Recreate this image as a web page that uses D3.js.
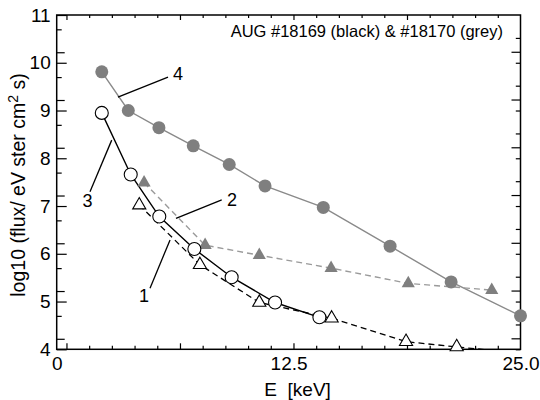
<!DOCTYPE html>
<html lang="en">
<head>
<meta charset="UTF-8">
<title>AUG flux spectra</title>
<script src="https://d3js.org/d3.v7.min.js"></script>
<style>
    body { margin: 0; background: #fff; }
    text { font-family: "Liberation Sans", Arial, sans-serif; }
</style>
</head>
<body>
<svg id="chart"></svg>
<script>
    // curve 1: #18169, open triangles, dashed black
    let e1 = [4.45, 7.72, 10.92, 14.82, 18.83, 21.56, 25.0];
    let v1 = [7.02, 5.77, 4.98, 4.65, 4.16, 4.05, 3.92];
    // curve 2: #18170, filled triangles, dashed grey
    let e2 = [4.71, 8.0, 10.92, 14.79, 18.95, 23.45];
    let v2 = [7.49, 6.18, 5.97, 5.70, 5.38, 5.24];
    // curve 3: #18169, open circles, solid black
    let e3 = [2.43, 3.99, 5.53, 7.42, 9.43, 11.77, 14.16];
    let v3 = [8.95, 7.66, 6.78, 6.10, 5.51, 4.98, 4.67];
    // curve 4: #18170, filled circles, solid grey
    let e4 = [2.43, 3.86, 5.51, 7.36, 9.30, 11.23, 14.37, 17.97, 21.26, 25.0];
    let v4 = [9.81, 9.0, 8.64, 8.26, 7.87, 7.42, 6.97, 6.16, 5.41, 4.70];

    let yLabels = [4, 5, 6, 7, 8, 9, 10, 11];
    let xLabels = [0, 12.5, 25.0];
    let xLabelText = ["0", "12.5", "25.0"];

    let width = 540, height = 400;
    let pLeft = 56.7, pRight = 520.5, pTop = 15, pBottom = 349.3;

    let svg = d3.select("#chart").attr("width", width).attr("height", height);

    let x = d3.scaleLinear().domain([0, 25]).range([pLeft, pRight]);
    let y = d3.scaleLinear().domain([4, 11]).range([pBottom, pTop]);
    // the tick marks of the frame do not sit on the labelled values
    let tx = d3.scaleLinear().domain([-0.43, 20]).range([pLeft, pRight]);

    function yTicks(off) {
        return d3.range(4, 11).map(function (n) { return n + off; }).filter(function (v) { return v <= 11; });
    }

    function tickAxis(axis, tr) {
        let g = svg.append("g").attr("transform", tr).call(axis);
        g.select(".domain").remove();
        g.selectAll("line").attr("stroke", "#000").attr("stroke-width", 1.2);
        return g;
    }

    // left side ticks
    tickAxis(d3.axisRight(y).tickValues(yLabels).tickSize(10).tickFormat(""), "translate(" + pLeft + ",0)");
    tickAxis(d3.axisRight(y).tickValues(yTicks(0.22)).tickSize(8).tickFormat(""), "translate(" + pLeft + ",0)");
    tickAxis(d3.axisRight(y).tickValues(yTicks(0.70)).tickSize(5).tickFormat(""), "translate(" + pLeft + ",0)");
    // right side ticks
    tickAxis(d3.axisLeft(y).tickValues(yTicks(0.23)).tickSize(9).tickFormat(""), "translate(" + pRight + ",0)");
    tickAxis(d3.axisLeft(y).tickValues(yTicks(0).concat(yTicks(0.52))).tickSize(4.7).tickFormat(""), "translate(" + pRight + ",0)");
    // bottom & top ticks
    let major = d3.range(0, 20, 5), minor = d3.range(0, 20).filter(function (d) { return d % 5 !== 0; });
    tickAxis(d3.axisTop(tx).tickValues(major).tickSize(6).tickFormat(""), "translate(0," + pBottom + ")");
    tickAxis(d3.axisTop(tx).tickValues(minor).tickSize(3.5).tickFormat(""), "translate(0," + pBottom + ")");
    tickAxis(d3.axisBottom(tx).tickValues(major).tickSize(5).tickFormat(""), "translate(0," + pTop + ")");
    tickAxis(d3.axisBottom(tx).tickValues(minor).tickSize(3).tickFormat(""), "translate(0," + pTop + ")");

    // frame
    svg.append("rect")
        .attr("x", pLeft).attr("y", pTop)
        .attr("width", pRight - pLeft).attr("height", pBottom - pTop)
        .attr("fill", "none").attr("stroke", "#000").attr("stroke-width", 1.5);

    // tick labels
    let yl = svg.append("g").attr("transform", "translate(" + pLeft + ",0)")
        .call(d3.axisLeft(y).tickValues(yLabels).tickSize(0).tickPadding(6).tickFormat(d3.format("d")));
    yl.select(".domain").remove();
    yl.selectAll("text").attr("font-size", 19).attr("fill", "#000")
        .attr("font-family", "Liberation Sans, Arial, sans-serif");

    let xl = svg.append("g").attr("transform", "translate(0," + pBottom + ")")
        .call(d3.axisBottom(x).tickValues(xLabels).tickSize(0).tickPadding(7)
            .tickFormat(function (d, i) { return xLabelText[i]; }));
    xl.select(".domain").remove();
    xl.selectAll("text").attr("font-size", 19).attr("fill", "#000")
        .attr("font-family", "Liberation Sans, Arial, sans-serif");

    // axis titles
    svg.append("text")
        .attr("x", (pLeft + pRight) / 2 + 9).attr("y", 396)
        .attr("text-anchor", "middle").attr("font-size", 19)
        .attr("xml:space", "preserve")
        .text("E  [keV]");

    let yt = svg.append("text")
        .attr("transform", "translate(25," + 185 + ") rotate(-90)")
        .attr("text-anchor", "middle").attr("font-size", 19.5);
    yt.append("tspan").text("log10 (flux/ eV ster cm");
    yt.append("tspan").attr("dy", -7).attr("font-size", 14).text("2");
    yt.append("tspan").attr("dy", 7).text(" s)");

    svg.append("text")
        .attr("x", x(24.06)).attr("y", 37)
        .attr("text-anchor", "end").attr("font-size", 16.5)
        .text("AUG #18169 (black) & #18170 (grey)");

    // curves
    svg.append("clipPath").attr("id", "plotclip").append("rect")
        .attr("x", pLeft).attr("y", pTop).attr("width", pRight - pLeft).attr("height", pBottom - pTop);

    function pts(es, vs) {
        return es.map(function (e, i) { return [e, vs[i]]; });
    }

    let line = d3.line()
        .x(function (d) { return x(d[0]); })
        .y(function (d) { return y(d[1]); });

    function curve(data, colour, dash, w) {
        svg.append("path")
            .datum(data)
            .attr("d", line)
            .attr("clip-path", "url(#plotclip)")
            .attr("fill", "none")
            .attr("stroke", colour)
            .attr("stroke-width", w)
            .attr("stroke-dasharray", dash);
    }

    let tri = d3.symbol().type(d3.symbolTriangle).size(75);

    let c1 = pts(e1, v1), c2 = pts(e2, v2), c3 = pts(e3, v3), c4 = pts(e4, v4);

    curve(c4, "#8a8a8a", null, 1.4);
    curve(c2, "#9a9a9a", "6,4", 1.4);
    curve(c1, "#000", "6,4", 1.3);
    curve(c3, "#000", null, 1.4);

    svg.selectAll(".m4").data(c4).enter().append("circle")
        .attr("cx", function (d) { return x(d[0]); })
        .attr("cy", function (d) { return y(d[1]); })
        .attr("r", 6.5).attr("fill", "#7f7f7f");

    svg.selectAll(".m2").data(c2).enter().append("path")
        .attr("d", tri)
        .attr("transform", function (d) { return "translate(" + x(d[0]) + "," + y(d[1]) + ")"; })
        .attr("fill", "#7f7f7f");

    svg.selectAll(".m1").data(c1.filter(function (d) { return d[1] >= 4; })).enter().append("path")
        .attr("d", tri)
        .attr("transform", function (d) { return "translate(" + x(d[0]) + "," + y(d[1]) + ")"; })
        .attr("fill", "#fff").attr("stroke", "#000").attr("stroke-width", 1.1);

    svg.selectAll(".m3").data(c3).enter().append("circle")
        .attr("cx", function (d) { return x(d[0]); })
        .attr("cy", function (d) { return y(d[1]); })
        .attr("r", 6.5).attr("fill", "#fff").attr("stroke", "#000").attr("stroke-width", 1.1);

    // curve numbers with leader lines
    let notes = [
        {label: "1", from: [5.03, 5.28], to: [6.11, 6.29], at: [4.71, 4.99]},
        {label: "2", from: [6.43, 6.74], to: [8.895, 7.13], at: [9.45, 7.0]},
        {label: "3", from: [1.795, 7.30], to: [2.965, 8.38], at: [1.66, 6.98]},
        {label: "4", from: [3.30, 9.28], to: [6.0, 9.70], at: [6.54, 9.64]}
    ];
    notes.forEach(function (n) {
        svg.append("line")
            .attr("x1", x(n.from[0])).attr("y1", y(n.from[1]))
            .attr("x2", x(n.to[0])).attr("y2", y(n.to[1]))
            .attr("stroke", "#000").attr("stroke-width", 1.3);
        svg.append("text")
            .attr("x", x(n.at[0])).attr("y", y(n.at[1]))
            .attr("text-anchor", "middle").attr("font-size", 18)
            .text(n.label);
    });
</script>
</body>
</html>
